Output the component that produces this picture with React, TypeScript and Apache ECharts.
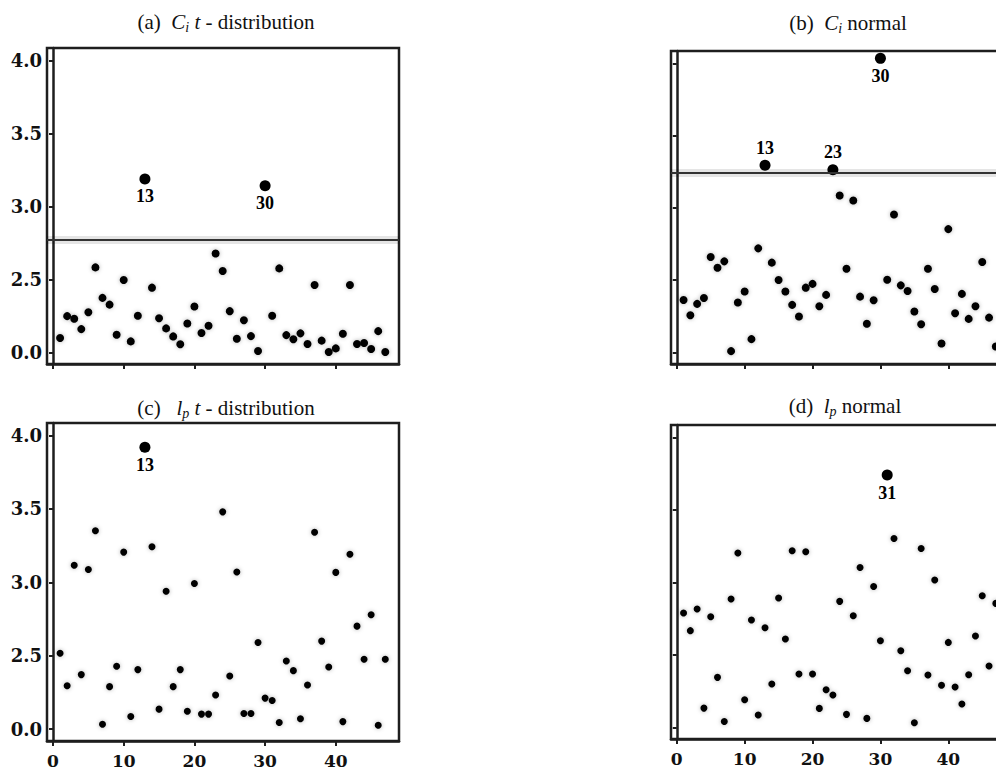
import React, { useEffect, useRef } from "react";
import * as echarts from "echarts";

// ---------- data ----------
const INDEX = [
  1, 2, 3, 4, 5, 6, 7, 8, 9, 10, 11, 12, 13, 14, 15, 16, 17, 18, 19, 20, 21, 22, 23, 24,
  25, 26, 27, 28, 29, 30, 31, 32, 33, 34, 35, 36, 37, 38, 39, 40, 41, 42, 43, 44, 45, 46, 47,
];

// (a) C_i t-distribution
const A_VALUES = [
  2.098, 2.248, 2.23, 2.159, 2.275, 2.582, 2.373, 2.327, 2.12, 2.495, 2.075, 2.25, 3.188,
  2.443, 2.234, 2.164, 2.109, 2.055, 2.198, 2.314, 2.132, 2.182, 2.677, 2.557, 2.282, 2.093,
  2.22, 2.111, 2.009, 3.142, 2.25, 2.575, 2.118, 2.089, 2.13, 2.057, 2.461, 2.08, 2.002,
  2.027, 2.127, 2.461, 2.057, 2.064, 2.023, 2.145, 2.002,
];
// (b) C_i normal
const B_VALUES = [
  2.363, 2.257, 2.336, 2.377, 2.66, 2.586, 2.63, 2.009, 2.345, 2.421, 2.092, 2.72, 3.294,
  2.621, 2.501, 2.421, 2.329, 2.248, 2.448, 2.474, 2.32, 2.398, 3.264, 3.085, 2.579, 3.051,
  2.386, 2.198, 2.361, 4.034, 2.503, 2.954, 2.464, 2.425, 2.283, 2.195, 2.579, 2.439, 2.062,
  2.853, 2.271, 2.405, 2.232, 2.32, 2.625, 2.241, 2.041,
];
// (c) l_p t-distribution
const C_VALUES = [
  2.518, 2.296, 3.117, 2.372, 3.088, 3.352, 2.034, 2.29, 2.429, 3.206, 2.087, 2.406, 3.92,
  3.243, 2.137, 2.939, 2.29, 2.406, 2.123, 2.992, 2.103, 2.103, 2.233, 3.48, 2.363, 3.07,
  2.107, 2.107, 2.591, 2.212, 2.196, 2.046, 2.465, 2.399, 2.071, 2.301, 3.341, 2.6, 2.424,
  3.068, 2.052, 3.192, 2.702, 2.477, 2.78, 2.027, 2.477,
];
// (d) l_p normal
const D_VALUES = [
  2.789, 2.667, 2.816, 2.133, 2.763, 2.345, 2.041, 2.885, 3.202, 2.191, 2.74, 2.085, 2.687,
  2.299, 2.892, 2.609, 3.218, 2.368, 3.211, 2.368, 2.131, 2.26, 2.223, 2.869, 2.09, 2.77,
  3.103, 2.062, 2.972, 2.598, 3.74, 3.303, 2.529, 2.391, 2.032, 3.234, 2.361, 3.016, 2.29,
  2.586, 2.278, 2.161, 2.363, 2.63, 2.908, 2.423, 2.855,
];

const A_OUTLIERS = [13, 30];
const A_OUTLIER_POS = ["bottom", "bottom"];
const B_OUTLIERS = [13, 23, 30];
const B_OUTLIER_POS = ["top", "top", "bottom"];
const C_OUTLIERS = [13];
const C_OUTLIER_POS = ["bottom"];
const D_OUTLIERS = [31];
const D_OUTLIER_POS = ["bottom"];

const A_THRESHOLD = 2.771;
const B_THRESHOLD = 3.241;

const Y_TICKS = [2, 2.5, 3, 3.5, 4];
const Y_TICK_LABELS = ["0.0", "2.5", "3.0", "3.5", "4.0"];
const X_TICKS = [0, 10, 20, 30, 40];
const X_TICK_LABELS = ["0", "10", "20", "30", "40"];

// ---------- styling ----------
const SERIF = '"Liberation Serif", "Times New Roman", serif';
const TICK_FONT = '"DejaVu Serif", serif';
const AXIS_COLOR = "#1e1e1e";

const TITLE_RICH = {
  n: { fontFamily: SERIF, fontSize: 21, color: "#111", lineHeight: 24 },
  i: { fontFamily: SERIF, fontSize: 21, fontStyle: "italic", color: "#111", lineHeight: 24 },
  s: {
    fontFamily: SERIF,
    fontSize: 14,
    fontStyle: "italic",
    color: "#111",
    lineHeight: 9,
    verticalAlign: "bottom",
  },
};

type Panel = {
  grid: { left: number; top: number; width: number; height: number };
  values: number[];
  outliers: number[];
  outlierPos: string[];
  threshold: number | null;
  yLabels: boolean;
  xLabels: boolean;
  size: number;
  title: string;
  titleX: number;
  titleY: number;
};

const PANELS: Panel[] = [
  {
    grid: { left: 47, top: 48, width: 352, height: 316 },
    values: A_VALUES,
    outliers: A_OUTLIERS,
    outlierPos: A_OUTLIER_POS,
    threshold: A_THRESHOLD,
    yLabels: true,
    xLabels: false,
    size: 8,
    title: "{n|(a)  }{i|C}{s|i}{i| t}{n| - distribution}",
    titleX: 221,
    titleY: 5,
  },
  {
    grid: { left: 671, top: 51, width: 338, height: 313 },
    values: B_VALUES,
    outliers: B_OUTLIERS,
    outlierPos: B_OUTLIER_POS,
    threshold: B_THRESHOLD,
    yLabels: false,
    xLabels: false,
    size: 8,
    title: "{n|(b)  }{i|C}{s|i}{n| normal}",
    titleX: 843,
    titleY: 6,
  },
  {
    grid: { left: 47, top: 423, width: 352, height: 318 },
    values: C_VALUES,
    outliers: C_OUTLIERS,
    outlierPos: C_OUTLIER_POS,
    threshold: null,
    yLabels: true,
    xLabels: true,
    size: 7,
    title: "{n|(c)   }{i|l}{s|p}{i| t}{n| - distribution}",
    titleX: 221,
    titleY: 391,
  },
  {
    grid: { left: 671, top: 425, width: 338, height: 314 },
    values: D_VALUES,
    outliers: D_OUTLIERS,
    outlierPos: D_OUTLIER_POS,
    threshold: null,
    yLabels: false,
    xLabels: true,
    size: 7,
    title: "{n|(d)  }{i|l}{s|p}{n| normal}",
    titleX: 840,
    titleY: 389,
  },
];

function yLabel(v: number): string {
  for (let k = 0; k < Y_TICKS.length; k++) {
    if (Math.abs(Y_TICKS[k] - v) < 1e-6) return Y_TICK_LABELS[k];
  }
  return "";
}
function xLabel(v: number): string {
  for (let k = 0; k < X_TICKS.length; k++) {
    if (Math.abs(X_TICKS[k] - v) < 1e-6) return X_TICK_LABELS[k];
  }
  return "";
}

function buildOption() {
  const grid: any[] = [];
  const xAxis: any[] = [];
  const yAxis: any[] = [];
  const series: any[] = [];
  const title: any[] = [];

  PANELS.forEach((p, gi) => {
    grid.push({
      ...p.grid,
      show: true,
      borderColor: AXIS_COLOR,
      borderWidth: 2.5,
      backgroundColor: "transparent",
      containLabel: false,
    });
    xAxis.push({
      type: "value",
      gridIndex: gi,
      min: -0.85,
      max: 48.94,
      splitLine: { show: false },
      axisLine: { show: true, lineStyle: { color: AXIS_COLOR, width: 2.5 } },
      axisTick: {
        show: true,
        customValues: X_TICKS,
        length: 5,
        lineStyle: { color: AXIS_COLOR, width: 2 },
      },
      axisLabel: {
        show: p.xLabels,
        customValues: X_TICKS,
        formatter: xLabel,
        fontFamily: TICK_FONT,
        fontWeight: "bold",
        fontSize: 17,
        color: "#111",
        margin: 11,
      },
    });
    yAxis.push({
      type: "value",
      gridIndex: gi,
      min: 1.92,
      max: 4.085,
      splitLine: { show: false },
      axisLine: { show: true, lineStyle: { color: AXIS_COLOR, width: 2.5 } },
      axisTick: {
        show: true,
        customValues: Y_TICKS,
        length: 4,
        lineStyle: { color: AXIS_COLOR, width: 2 },
      },
      axisLabel: {
        show: p.yLabels,
        customValues: Y_TICKS,
        formatter: yLabel,
        fontFamily: TICK_FONT,
        fontWeight: "bold",
        fontSize: 18,
        color: "#111",
        margin: 5,
      },
    });

    const normal: number[][] = [];
    const outl: any[] = [];
    INDEX.forEach((x, k) => {
      const oi = p.outliers.indexOf(x);
      if (oi >= 0) {
        outl.push({
          value: [x, p.values[k]],
          label: { position: p.outlierPos[oi] },
        });
      } else {
        normal.push([x, p.values[k]]);
      }
    });

    const mainSeries: any = {
      type: "scatter",
      xAxisIndex: gi,
      yAxisIndex: gi,
      data: normal,
      symbol: "circle",
      symbolSize: p.size,
      itemStyle: {
        color: "#000",
        opacity: 1,
        shadowBlur: 4,
        shadowColor: "rgba(0,0,0,0.3)",
      },
      silent: true,
    };
    if (p.threshold !== null) {
      mainSeries.markLine = {
        silent: true,
        symbol: "none",
        label: { show: false },
        animation: false,
        data: [
          { yAxis: p.threshold, lineStyle: { color: "rgba(0,0,0,0.10)", width: 8, type: "solid" } },
          { yAxis: p.threshold, lineStyle: { color: "#333", width: 2, type: "solid" } },
        ],
      };
    }
    series.push(mainSeries);
    series.push({
      type: "scatter",
      xAxisIndex: gi,
      yAxisIndex: gi,
      data: outl,
      symbol: "circle",
      symbolSize: 11,
      itemStyle: { color: "#000", opacity: 1 },
      silent: true,
      label: {
        show: true,
        formatter: (d: any) => String(d.value[0]),
        fontFamily: SERIF,
        fontWeight: "bold",
        fontSize: 18,
        color: "#000",
        distance: 3,
      },
    });

    title.push({
      text: p.title,
      left: p.titleX,
      top: p.titleY,
      textAlign: "center",
      textStyle: { rich: TITLE_RICH, fontFamily: SERIF, fontSize: 21, fontWeight: "normal" },
    });
  });

  return {
    animation: false,
    backgroundColor: "#ffffff",
    title,
    grid,
    xAxis,
    yAxis,
    series,
  };
}

export default function App() {
  const ref = useRef<HTMLDivElement>(null);
  useEffect(() => {
    if (!ref.current) return;
    const chart = echarts.init(ref.current, undefined, { renderer: "svg" });
    chart.setOption(buildOption() as any);
    return () => chart.dispose();
  }, []);
  return (
    <div
      style={{
        position: "absolute",
        left: 0,
        top: 0,
        width: 996,
        height: 774,
        overflow: "hidden",
        background: "#fff",
      }}
    >
      <div ref={ref} style={{ width: 1030, height: 774 }} />
    </div>
  );
}
